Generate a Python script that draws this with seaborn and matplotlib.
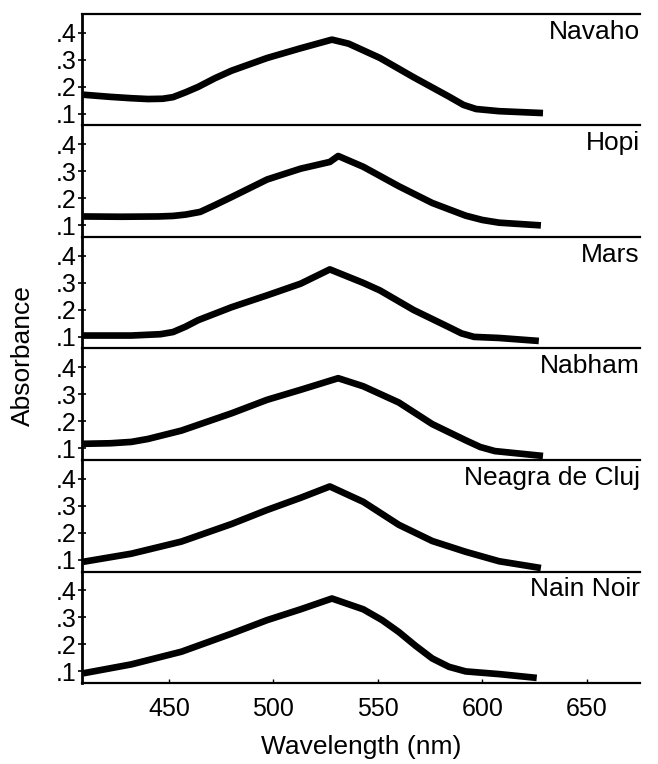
import matplotlib
matplotlib.use("Agg")
import matplotlib.pyplot as plt
import seaborn as sns
import pandas as pd

# values (wavelength in nm, absorbance)
names = ["Navaho", "Hopi", "Mars", "Nabham", "Neagra de Cluj", "Nain Noir"]

navaho_nm = [409, 422, 432, 440, 447, 452, 458, 464, 472, 480, 497, 513, 528, 536, 551, 567, 584, 591, 597, 608, 629]
navaho_abs = [.171, .163, .158, .155, .156, .162, .18, .2, .232, .26, .307, .343, .375, .36, .307, .236, .164, .133, .118, .11, .103]

hopi_nm = [409, 427, 445, 452, 458, 465, 472, 480, 497, 513, 527, 531, 543, 560, 576, 592, 600, 608, 628]
hopi_abs = [.133, .132, .133, .135, .14, .15, .175, .205, .27, .31, .335, .357, .317, .245, .183, .136, .12, .11, .10]

mars_nm = [409, 432, 446, 452, 458, 464, 480, 497, 513, 527, 543, 551, 567, 584, 590, 596, 608, 627]
mars_abs = [.105, .105, .11, .118, .138, .162, .21, .254, .297, .35, .30, .272, .20, .136, .113, .10, .096, .085]

nabham_nm = [409, 422, 432, 440, 456, 480, 497, 513, 531, 543, 560, 576, 592, 599, 606, 629]
nabham_abs = [.117, .119, .124, .135, .166, .23, .28, .317, .36, .33, .27, .19, .13, .105, .09, .072]

neagra_nm = [409, 432, 456, 480, 497, 513, 527, 543, 560, 576, 592, 608, 628]
neagra_abs = [.093, .123, .168, .233, .285, .33, .372, .315, .23, .17, .13, .095, .07]

nain_nm = [409, 432, 456, 480, 497, 513, 528, 543, 552, 560, 568, 576, 584, 592, 608, 626]
nain_abs = [.093, .126, .173, .24, .29, .33, .37, .33, .29, .246, .195, .148, .117, .10, .09, .076]

series = [
    (navaho_nm, navaho_abs),
    (hopi_nm, hopi_abs),
    (mars_nm, mars_abs),
    (nabham_nm, nabham_abs),
    (neagra_nm, neagra_abs),
    (nain_nm, nain_abs),
]

x_ticks = [450, 500, 550, 600, 650]
y_ticks = [.1, .2, .3, .4]
y_labels = [".1", ".2", ".3", ".4"]

sns.set_style("white")
plt.rcParams['font.family'] = ['Liberation Sans', 'DejaVu Sans']
plt.rcParams['text.color'] = 'black'
plt.rcParams['axes.labelcolor'] = 'black'
plt.rcParams['xtick.color'] = 'black'
plt.rcParams['ytick.color'] = 'black'

fig, axes = plt.subplots(6, 1, sharex=True, figsize=(6.58, 7.64), dpi=100)
fig.subplots_adjust(left=0.1246, right=0.9726, top=0.9817, bottom=0.106, hspace=0)

for i, (ax, name, (nm, ab)) in enumerate(zip(axes, names, series)):
    df = pd.DataFrame({"wavelength": nm, "absorbance": ab})
    sns.lineplot(data=df, x="wavelength", y="absorbance", ax=ax, color="black",
                 linewidth=4.8, solid_capstyle="butt", solid_joinstyle="round")
    ax.set_xlim(408.4, 675.4)
    ax.set_ylim(0.057, 0.47)
    ax.set_yticks(y_ticks)
    ax.set_yticklabels(y_labels)
    ax.set_ylabel("")
    ax.set_xlabel("")
    ax.tick_params(axis="y", direction="inout", length=6, width=1.2, pad=1,
                   labelsize=18, left=True)
    ax.spines["right"].set_visible(False)
    ax.spines["left"].set_linewidth(2.0)
    ax.spines["top"].set_linewidth(1.6)
    ax.spines["bottom"].set_visible(i == 5)
    ax.spines["bottom"].set_linewidth(1.6)
    for s in ax.spines.values():
        s.set_color("black")
    ax.text(1.0, 0.84, name, transform=ax.transAxes, ha="right", va="center",
            fontsize=19)
    if i < 5:
        ax.tick_params(axis="x", bottom=False, labelbottom=False)

axes[-1].set_xticks(x_ticks)
axes[-1].tick_params(axis="x", direction="in", length=3, width=1, pad=10,
                     labelsize=18, bottom=True)
axes[-1].set_xlabel("Wavelength (nm)", fontsize=19, labelpad=10)
fig.text(0.035, 0.534, "Absorbance", rotation=90, ha="center", va="center",
         fontsize=19)

plt.savefig("out.png", dpi=100)
plt.close()
